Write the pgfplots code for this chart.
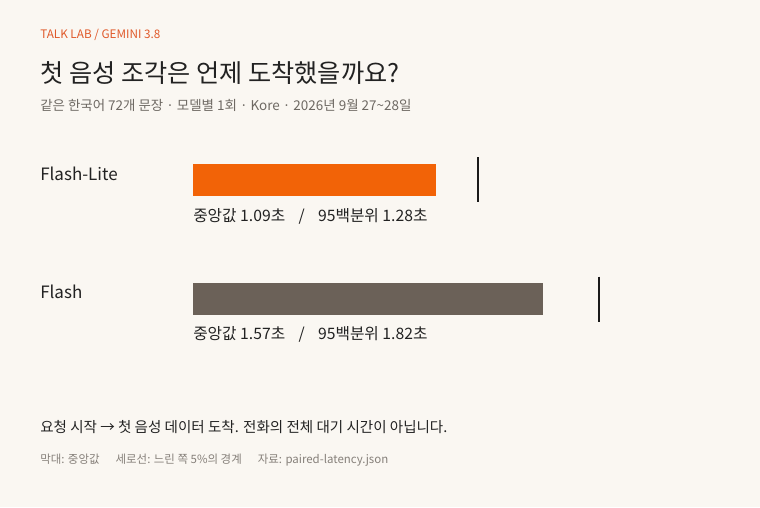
\documentclass[border=0pt]{standalone}
\usepackage{pgfplots}
\pgfplotsset{compat=1.18}
\usepackage{fontspec}
\setmainfont{Noto Sans CJK KR}
\definecolor{bgcol}{HTML}{FAF7F2}
\definecolor{liteorange}{HTML}{F26307}
\definecolor{flashgray}{HTML}{6B6158}
\definecolor{eyebrow}{HTML}{E0592A}
\definecolor{inkdark}{HTML}{222222}
\definecolor{inkmid}{HTML}{6E6963}
\definecolor{inklight}{HTML}{86807A}
\definecolor{tickink}{HTML}{1A1A1A}
\newcommand{\fs}[1]{\fontsize{#1}{#1}\selectfont}
\begin{document}
\begin{tikzpicture}[x=0.75pt,y=-0.75pt]
% page background, 760 x 507 px
\fill[bgcol] (0,0) rectangle (760,507);

% header
\node[anchor=base west,inner sep=0pt,text=eyebrow,font=\fs{8.8}] at (40,38) {TALK LAB / GEMINI 3.8};
\node[anchor=base west,inner sep=0pt,text=inkdark,font=\fs{18.9}] at (40,82) {첫 음성 조각은 언제 도착했을까요?};
\node[anchor=base west,inner sep=0pt,text=inkmid,font=\fs{10.1}] at (40,110) {같은 한국어 72개 문장 · 모델별 1회 · Kore · 2026년 9월 27\textasciitilde 28일};

% row labels
\node[anchor=base west,inner sep=0pt,text=inkdark,font=\fs{12.75}] at (40,180) {Flash-Lite};
\node[anchor=base west,inner sep=0pt,text=inkdark,font=\fs{12.75}] at (40,298) {Flash};

\begin{axis}[
  at={(144.75pt,-269.25pt)}, anchor=south west,
  scale only axis,
  width=334.35pt, height=179.25pt,
  xmin=0, xmax=2,
  ymin=-0.5, ymax=1.5,
  hide axis,
  clip=false,
  xbar, bar width=24pt, bar shift=0pt,
]
% median (bars)
\addplot[fill=liteorange, draw=none] coordinates {(1.09,1)};
\addplot[fill=flashgray, draw=none] coordinates {(1.57,0)};
% 95th percentile (vertical ticks)
\addplot[xbar=false, only marks, mark=|, mark size=16.9pt,
  mark options={line width=1.5pt, draw=tickink}] coordinates {(1.28,1) (1.82,0)};
\end{axis}

% value notes under the bars
\node[anchor=base west,inner sep=0pt,text=inkdark,font=\fs{11.8}] at (193,221) {중앙값 1.09초\hspace{10pt}/\hspace{10pt}95백분위 1.28초};
\node[anchor=base west,inner sep=0pt,text=inkdark,font=\fs{11.8}] at (193,339) {중앙값 1.57초\hspace{10pt}/\hspace{10pt}95백분위 1.82초};

% footer
\node[anchor=base west,inner sep=0pt,text=inkdark,font=\fs{10.9}] at (40,432) {요청 시작 → 첫 음성 데이터 도착. 전화의 전체 대기 시간이 아닙니다.};
\node[anchor=base west,inner sep=0pt,text=inklight,font=\fs{8.6}] at (40,463) {막대: 중앙값\hspace{12pt}세로선: 느린 쪽 5\%의 경계\hspace{12pt}자료: paired-latency.json};
\end{tikzpicture}
\end{document}
